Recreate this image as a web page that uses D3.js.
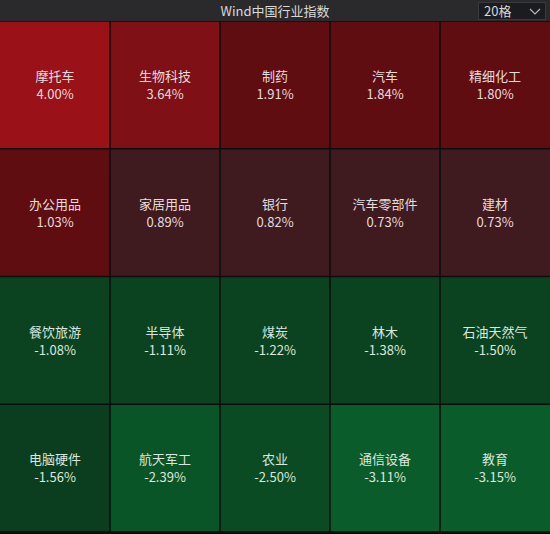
<!DOCTYPE html>
<html><head><meta charset="utf-8">
<script src="https://cdn.jsdelivr.net/npm/d3@7"></script>
<style>
html,body{margin:0;padding:0;background:#0d0d0d;}
svg{display:block;}
</style></head>
<body>
<script>
const title = "Wind中国行业指数";
const dropdownLabel = "20格";
const names = ["摩托车","生物科技","制药","汽车","精细化工",
  "办公用品","家居用品","银行","汽车零部件","建材",
  "餐饮旅游","半导体","煤炭","林木","石油天然气",
  "电脑硬件","航天军工","农业","通信设备","教育"];
const values = [4.00,3.64,1.91,1.84,1.80,
  1.03,0.89,0.82,0.73,0.73,
  -1.08,-1.11,-1.22,-1.38,-1.50,
  -1.56,-2.39,-2.50,-3.11,-3.15];
// shade level (sign gives red/green, magnitude gives depth)
const shades = [4,3,2,2,2,
  2,1,1,1,1,
  -2,-2,-2,-2,-2,
  -1,-4,-3,-5,-5];

const W = 550, H = 534, headerH = 21, cols = 5, rows = 4;
const svg = d3.select("body").append("svg").attr("width", W).attr("height", H);

const colorScale = d3.scaleOrdinal()
  .domain([4,3,2,1,-1,-2,-3,-4,-5])
  .range(["#9a1118","#7f1015","#600d12","#3f1a1f","#0a3e1e","#0b4321","#0a4b24","#0a5527","#0a5d2b"]);

// header
svg.append("rect").attr("x",0).attr("y",0).attr("width",W).attr("height",headerH).attr("fill","#2a2a2c");
svg.append("text").attr("x",275).attr("y",15.5).attr("text-anchor","middle")
  .attr("font-family","'Noto Sans CJK SC', 'Noto Sans', sans-serif").attr("font-size",13)
  .attr("fill","#d8d8d8").text(title);
svg.append("rect").attr("x",478.5).attr("y",2.5).attr("width",67).attr("height",17)
  .attr("fill","#1b1c1f").attr("stroke","#3a3a3c");
svg.append("text").attr("x",484).attr("y",16).attr("font-family","'Noto Sans CJK SC', sans-serif")
  .attr("font-size",13).attr("fill","#d8d8d8").text(dropdownLabel);
svg.append("path").attr("d","M530,9 L535,14 L540,9").attr("fill","none").attr("stroke","#b8b8b8").attr("stroke-width",1.2);

const x = d3.scaleBand().domain(d3.range(cols)).range([0, W]).paddingInner(0);
const y = d3.scaleBand().domain(d3.range(rows)).range([headerH, 532]).paddingInner(0);

const data = names.map((n,i)=>({name:n, value:values[i], shade:shades[i], c:i%cols, r:Math.floor(i/cols)}));

const g = svg.selectAll("g.cell").data(data).join("g").attr("class","cell")
  .attr("transform", d=>`translate(${x(d.c)},${y(d.r)})`);

g.append("rect")
  .attr("x", d=> d.c===0 ? 0 : 0.75)
  .attr("y", 0.75)
  .attr("width", d=> x.bandwidth() - (d.c===0?0.75:1.5) + (d.c===cols-1?0.75:0))
  .attr("height", y.bandwidth()-1.5)
  .attr("fill", d=>colorScale(d.shade));

g.append("text").attr("x", x.bandwidth()/2).attr("y", 60).attr("text-anchor","middle")
  .attr("font-family","'Noto Sans CJK SC', sans-serif").attr("font-size",13)
  .attr("fill", d=> d.value>=0 ? "#e6dcdc" : "#dce6de").text(d=>d.name);
g.append("text").attr("x", x.bandwidth()/2).attr("y", 78).attr("text-anchor","middle")
  .attr("font-family","'Noto Sans CJK SC', sans-serif").attr("font-size",13)
  .attr("fill", d=> d.value>=0 ? "#e6dcdc" : "#dce6de").text(d=>d.value.toFixed(2)+"%");
</script>
</body></html>
